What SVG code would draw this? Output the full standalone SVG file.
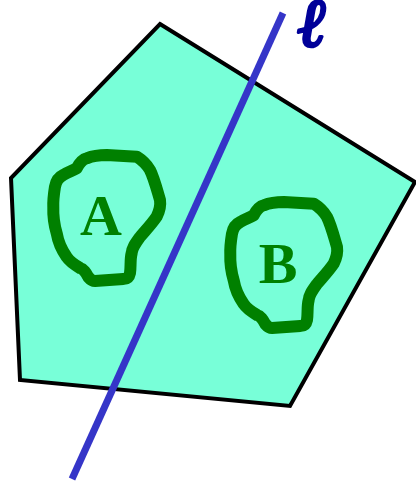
<svg xmlns="http://www.w3.org/2000/svg" width="416" height="485" viewBox="0 0 416 485">
<style>
.blob{fill:none;stroke:#008000;stroke-width:12;stroke-linejoin:round;stroke-linecap:round}
.lbl{font-family:"Liberation Serif",serif;font-weight:bold;fill:#008000;font-size:58px;text-anchor:middle}
</style>
<defs>
<path id="blobshape" d="M76.7,168.3 C80,162 84,159 86.7,158.3 C95,155 100,155 106.7,155 L136.7,156.7 C142,160 147,165 150,170 C154,178 157,190 160,200 C161,207 159,212 156.7,216.7 C151,225 145,231 140,237 C135,244 132,248 131.7,253 C130,259 131,267 130,273 C129,278 126,279 123.3,279 L95,281 C92,281 90,279 88.3,277 C86,273 84,269 80,268 C75,265 70,262 66.7,257 C61,249 58,241 56.7,233.3 C54,224 53,215 53.3,206.7 C53,199 54,193 55,186.7 C56,181 59,177 63.3,175 C68,172 72,171 76.7,168.3 Z"/>
</defs>
<g id="polygon">
<polygon points="160,24 415,182 290,406 20,380 11,178" fill="#78FFD8" stroke="#000" stroke-width="4" stroke-linejoin="miter"/>
</g>
<g id="regionA">
<use href="#blobshape" class="blob"/>
<text class="lbl" x="101" y="235">A</text>
</g>
<g id="regionB">
<use href="#blobshape" class="blob" transform="translate(177,47)"/>
<text class="lbl" x="278" y="283">B</text>
</g>
<g id="connectors">
<line id="lineL" x1="283" y1="13" x2="72" y2="479" stroke="#3535C8" stroke-width="7"/>
</g>
<g id="labelL">
<text x="298" y="46" font-family="'DejaVu Serif',serif" font-style="italic" font-weight="bold" font-size="68" fill="#000099" stroke="#000099" stroke-width="3" stroke-linejoin="round">ℓ</text>
</g>
</svg>
